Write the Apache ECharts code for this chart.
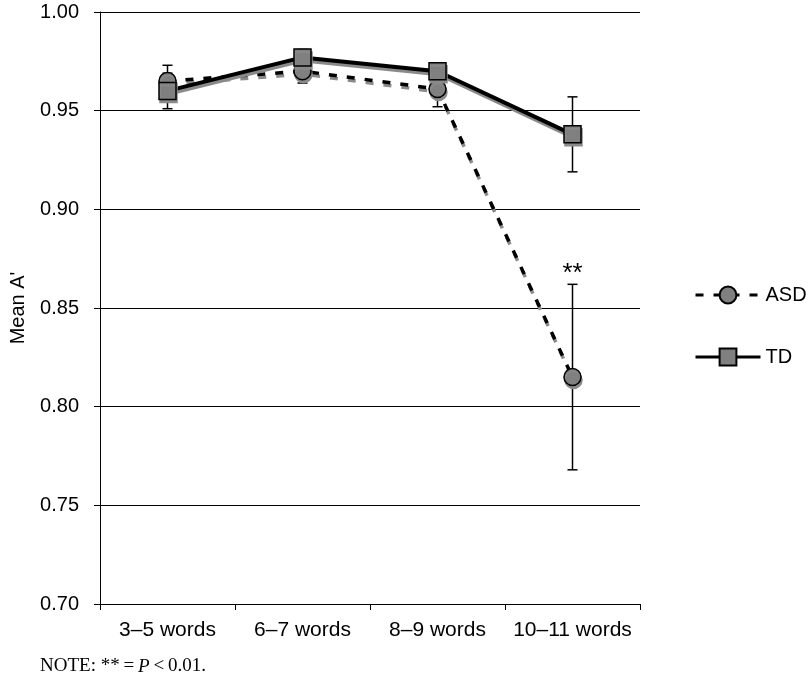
<!DOCTYPE html>
<html>
<head>
<meta charset="utf-8">
<script src="https://cdn.jsdelivr.net/npm/echarts@6/dist/echarts.min.js"></script>
<style>
  html, body { margin: 0; padding: 0; background: #fff; }
  #main { width: 811px; height: 676px; }
</style>
</head>
<body>
<div id="main"></div>
<script>
var mychart = echarts.init(document.getElementById('main'));

// word-list lengths
var categories = ['3\u20135 words', '6\u20137 words', '8\u20139 words', '10\u201311 words'];

// mean A' per group, and error bar half-lengths
var asdMean = [0.965, 0.970, 0.961, 0.815];
var asdErr  = [0.008, 0.006, 0.009, 0.047];
var tdMean  = [0.960, 0.977, 0.970, 0.938];
var tdErr   = [0.009, 0.004, 0.004, 0.019];

// significance marks over the ASD bars
var sigMarks = ['', '', '', '**'];

const fontSans = "'Liberation Sans', Arial, sans-serif";
const fontSerif = "'Liberation Serif', 'Times New Roman', serif";

function errorSeries(name, mean, err, marks) {
    let rows = [];
    for (let i = 0; i < mean.length; i++) {
        rows.push([i, mean[i] - err[i], mean[i] + err[i], marks ? marks[i] : '']);
    }
    return {
        name: name + ' err',
        type: 'custom',
        z: 1,
        silent: true,
        data: rows,
        renderItem: function (params, api) {
            let lo = api.coord([api.value(0), api.value(1)]);
            let hi = api.coord([api.value(0), api.value(2)]);
            let cap = 5;
            let style = { stroke: '#000', lineWidth: 1.5 };
            let children = [
                { type: 'line', shape: { x1: lo[0], y1: lo[1], x2: hi[0], y2: hi[1] }, style: style },
                { type: 'line', shape: { x1: lo[0] - cap, y1: lo[1], x2: lo[0] + cap, y2: lo[1] }, style: style },
                { type: 'line', shape: { x1: hi[0] - cap, y1: hi[1], x2: hi[0] + cap, y2: hi[1] }, style: style }
            ];
            let mark = rows[params.dataIndex][3];
            if (mark) {
                children.push({
                    type: 'text',
                    style: {
                        x: hi[0], y: hi[1] - 10, text: mark,
                        fill: '#000', font: '26px ' + fontSans,
                        align: 'center', verticalAlign: 'middle'
                    }
                });
            }
            return { type: 'group', children: children };
        }
    };
}

var shadow = { shadowColor: '#8a8a8a', shadowOffsetX: 1, shadowOffsetY: 3, shadowBlur: 0 };

var option = {
    animation: false,
    backgroundColor: '#fff',
    grid: { left: 96, top: 12, right: 171, bottom: 72 },
    legend: {
        orient: 'vertical',
        left: 689,
        top: 280,
        itemWidth: 65,
        itemHeight: 21,
        itemGap: 42,
        textStyle: { fontSize: 20, fontFamily: fontSans, color: '#000' },
        lineStyle: { width: 3 },
        data: ['ASD', 'TD']
    },
    xAxis: {
        type: 'category',
        data: categories,
        boundaryGap: true,
        axisLine: { lineStyle: { color: '#000', width: 1 } },
        axisTick: { show: true, interval: 0, length: 6, lineStyle: { color: '#000' } },
        axisLabel: { interval: 0, margin: 16, fontSize: 21, fontFamily: fontSans, color: '#000' },
        splitLine: { show: false }
    },
    yAxis: {
        type: 'value',
        min: 0.70,
        max: 1.00,
        interval: 0.05,
        name: "Mean A'",
        nameLocation: 'middle',
        nameGap: 72,
        nameTextStyle: { fontSize: 20, fontFamily: fontSans, color: '#000' },
        axisLine: { show: true, lineStyle: { color: '#000', width: 1 } },
        axisTick: { show: true, length: 6, lineStyle: { color: '#000' } },
        axisLabel: {
            margin: 21, fontSize: 20, fontFamily: fontSans, color: '#000',
            formatter: function (v) { return v.toFixed(2); }
        },
        splitLine: { show: true, lineStyle: { color: '#000', width: 1 } }
    },
    series: [
        errorSeries('ASD', asdMean, asdErr, sigMarks),
        errorSeries('TD', tdMean, tdErr, null),
        {
            name: 'ASD',
            type: 'line',
            z: 3,
            data: asdMean,
            symbol: 'circle',
            symbolSize: 17,
            lineStyle: Object.assign({ color: '#000', width: 3.5, type: [8, 10] }, shadow),
            itemStyle: Object.assign({ color: '#808080', borderColor: '#000', borderWidth: 1.5 }, shadow)
        },
        {
            name: 'TD',
            type: 'line',
            z: 4,
            data: tdMean,
            symbol: 'rect',
            symbolSize: 17,
            lineStyle: Object.assign({ color: '#000', width: 4 }, shadow),
            itemStyle: Object.assign({ color: '#808080', borderColor: '#000', borderWidth: 1.5 }, shadow)
        }
    ],
    graphic: [{
        type: 'text',
        left: 40,
        top: 657,
        style: {
            text: '{a|NOTE: **\u2009=\u2009}{i|P}{a|\u2009<\u20090.01.}',
            rich: {
                a: { fontSize: 19, fontFamily: fontSerif, fill: '#000' },
                i: { fontSize: 19, fontFamily: fontSerif, fontStyle: 'italic', fill: '#000' }
            }
        }
    }]
};

mychart.setOption(option);
</script>
</body>
</html>
